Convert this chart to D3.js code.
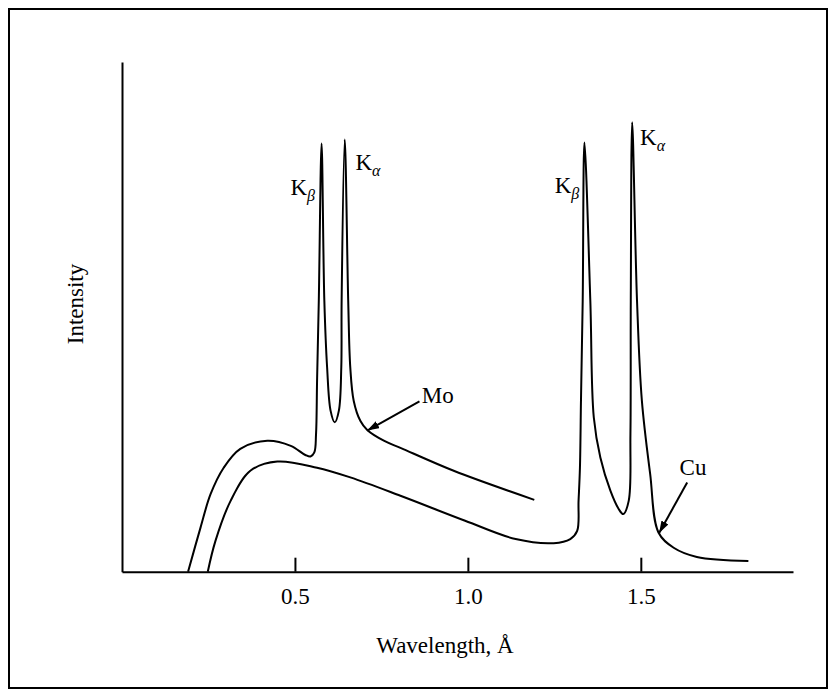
<!DOCTYPE html>
<html>
<head>
<meta charset="utf-8">
<script src="https://cdn.jsdelivr.net/npm/d3@7"></script>
<style>
  body { margin: 0; background: #fff; }
  text { font-family: "Liberation Serif", "Times New Roman", serif; }
</style>
</head>
<body>
<svg id="drawing_region"></svg>
<script>
// Mo spectrum (wavelength in Angstrom, intensity in arbitrary units)
const mo_wavelength = [0.191, 0.227, 0.256, 0.294, 0.342, 0.420, 0.488, 0.530, 0.545, 0.556, 0.561, 0.564, 0.569, 0.577, 0.585, 0.593, 0.603, 0.615, 0.627, 0.634, 0.635, 0.644, 0.654, 0.660, 0.670, 0.689, 0.709, 0.757, 0.805, 0.959, 1.192];
const mo_intensity  = [0, 8.65, 15.2, 20.4, 24.1, 25.7, 24.7, 22.9, 22.6, 23.4, 27.0, 37.5, 53.2, 84.0, 53.2, 40.1, 31.6, 29.3, 31.6, 40.1, 53.2, 84.8, 53.2, 40.1, 33.5, 29.6, 27.8, 25.7, 24.3, 19.8, 14.1];

// Cu spectrum
const cu_wavelength = [0.248, 0.270, 0.314, 0.371, 0.449, 0.564, 0.660, 0.805, 0.992, 1.138, 1.248, 1.296, 1.316, 1.320, 1.324, 1.327, 1.332, 1.337, 1.354, 1.364, 1.383, 1.412, 1.436, 1.449, 1.465, 1.470, 1.471, 1.475, 1.489, 1.503, 1.527, 1.551, 1.595, 1.662, 1.811];
const cu_intensity  = [0, 6.0, 13.9, 19.8, 21.6, 20.4, 18.5, 14.9, 10.0, 6.4, 5.6, 6.4, 8.0, 13.9, 20.4, 33.6, 53.2, 84.2, 53.2, 30.3, 22.4, 15.9, 12.3, 11.3, 13.9, 27.1, 53.2, 88.2, 53.2, 33.6, 19.2, 7.7, 4.7, 2.9, 2.1];

const x_ticks = [0.5, 1.0, 1.5];

// peak labels: [wavelength, intensity, subscript]
const peak_labels = [
    { wl: 0.487, int: 74.0, sub: "β" },
    { wl: 0.675, int: 78.9, sub: "α" },
    { wl: 1.251, int: 74.3, sub: "β" },
    { wl: 1.498, int: 83.7, sub: "α" }
];

// arrows: tail -> tip
const arrows = [
    { name: "Mo", tail: [0.860, 33.4], tip: [0.709, 27.7], label: [0.867, 33.0] },
    { name: "Cu", tail: [1.634, 17.5], tip: [1.553, 7.6], label: [1.612, 18.9] }
];

const config = {
    width: 836,
    height: 697,
    margin: { top: 62, right: 43, bottom: 126, left: 122 }
};

const svg = d3.select("#drawing_region")
    .attr("width", config.width)
    .attr("height", config.height);

// outer frame
svg.append("rect")
    .attr("x", 9)
    .attr("y", 9)
    .attr("width", 818)
    .attr("height", 679)
    .attr("fill", "none")
    .attr("stroke", "#000")
    .attr("stroke-width", 2);

const inner_width = config.width - config.margin.left - config.margin.right;
const inner_height = config.height - config.margin.top - config.margin.bottom;

const chart = svg.append("g")
    .attr("transform", `translate(${config.margin.left}, ${config.margin.top})`);

const xscale = d3.scaleLinear()
    .domain([0, 1.94])
    .range([0, inner_width]);

const yscale = d3.scaleLinear()
    .domain([0, 100])
    .range([inner_height + 0.7, 0]);

// arrow head marker
svg.append("defs").append("marker")
    .attr("id", "arrowhead")
    .attr("viewBox", "0 0 12 8")
    .attr("refX", 12)
    .attr("refY", 4)
    .attr("markerWidth", 12)
    .attr("markerHeight", 8)
    .attr("markerUnits", "userSpaceOnUse")
    .attr("orient", "auto")
    .append("path")
    .attr("d", "M0,0 L12,4 L0,8 Z")
    .attr("fill", "#000");

// axes
const xaxis = d3.axisBottom(xscale)
    .tickValues(x_ticks)
    .tickFormat(d3.format(".1f"))
    .tickSizeInner(-14)
    .tickSizeOuter(0)
    .tickPadding(16);

const xaxis_group = chart.append("g")
    .attr("transform", `translate(0, ${yscale(0)})`)
    .call(xaxis);

xaxis_group.selectAll("path, line")
    .attr("stroke", "#000")
    .attr("stroke-width", 2);
xaxis_group.selectAll("text")
    .attr("fill", "#000")
    .attr("font-size", 23)
    .attr("font-family", "Liberation Serif, serif");

const yaxis_group = chart.append("g")
    .call(d3.axisLeft(yscale).ticks(0).tickSizeOuter(0));
yaxis_group.select("path")
    .attr("stroke", "#000")
    .attr("stroke-width", 2);

// spectra
const line = d3.line()
    .x(d => xscale(d[0]))
    .y(d => yscale(d[1]))
    .curve(d3.curveCatmullRom.alpha(0.5));

const spectra = [
    d3.zip(mo_wavelength, mo_intensity),
    d3.zip(cu_wavelength, cu_intensity)
];

chart.selectAll(".spectrum")
    .data(spectra)
    .enter()
    .append("path")
    .attr("class", "spectrum")
    .attr("d", line)
    .attr("fill", "none")
    .attr("stroke", "#000")
    .attr("stroke-width", 2);

// peak labels
const klabels = chart.selectAll(".klabel")
    .data(peak_labels)
    .enter()
    .append("text")
    .attr("class", "klabel")
    .attr("x", d => xscale(d.wl))
    .attr("y", d => yscale(d.int))
    .attr("font-size", 23);
klabels.append("tspan").text("K");
klabels.append("tspan")
    .attr("dy", 6)
    .attr("font-size", 16)
    .attr("font-style", "italic")
    .text(d => d.sub);

// arrows and element names
chart.selectAll(".arrow")
    .data(arrows)
    .enter()
    .append("line")
    .attr("class", "arrow")
    .attr("x1", d => xscale(d.tail[0]))
    .attr("y1", d => yscale(d.tail[1]))
    .attr("x2", d => xscale(d.tip[0]))
    .attr("y2", d => yscale(d.tip[1]))
    .attr("stroke", "#000")
    .attr("stroke-width", 2)
    .attr("marker-end", "url(#arrowhead)");

chart.selectAll(".elem")
    .data(arrows)
    .enter()
    .append("text")
    .attr("class", "elem")
    .attr("x", d => xscale(d.label[0]))
    .attr("y", d => yscale(d.label[1]))
    .attr("font-size", 23)
    .text(d => d.name);

// axis titles
svg.append("text")
    .attr("x", 445)
    .attr("y", 653)
    .attr("text-anchor", "middle")
    .attr("font-size", 23)
    .text("Wavelength, Å");

svg.append("text")
    .attr("transform", "translate(83, 304) rotate(-90)")
    .attr("text-anchor", "middle")
    .attr("font-size", 23)
    .text("Intensity");
</script>
</body>
</html>
